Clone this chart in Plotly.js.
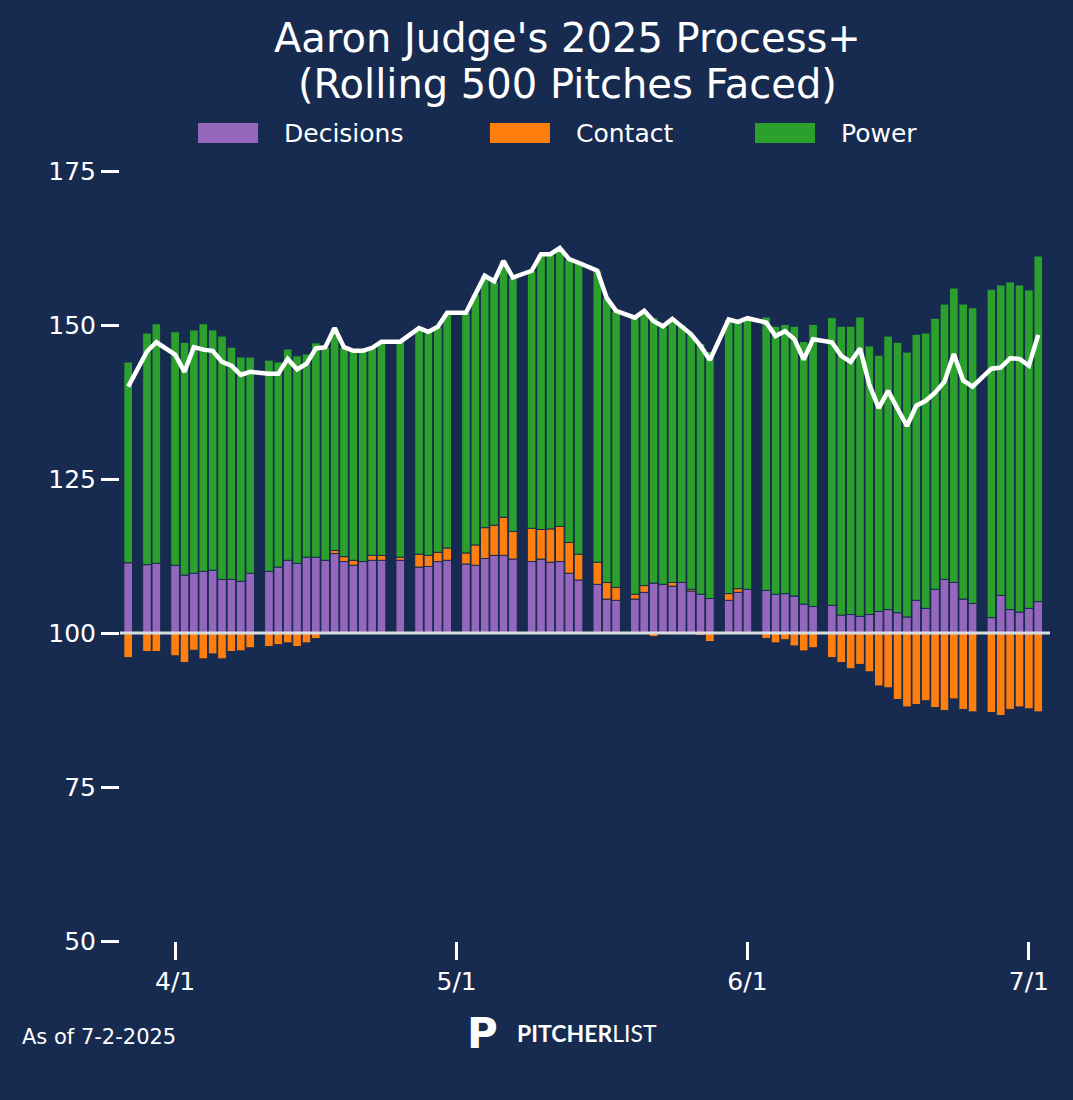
<!DOCTYPE html>
<html>
<head>
<meta charset="utf-8">
<script src="https://cdn.plot.ly/plotly-3.0.1.min.js"></script>
<style>
  html, body { margin: 0; padding: 0; background: #172b50; }
  #chart { width: 1073px; height: 1100px; }
</style>
</head>
<body>
<div id="chart"></div>
<script>
// rolling 500-pitch components, one entry per game date
const dates = ['2025-03-27','2025-03-29','2025-03-30','2025-04-01','2025-04-02','2025-04-03','2025-04-04','2025-04-05','2025-04-06','2025-04-07','2025-04-08','2025-04-09','2025-04-11','2025-04-12','2025-04-13','2025-04-14','2025-04-15','2025-04-16','2025-04-17','2025-04-18','2025-04-19','2025-04-20','2025-04-21','2025-04-22','2025-04-23','2025-04-25','2025-04-27','2025-04-28','2025-04-29','2025-04-30','2025-05-02','2025-05-03','2025-05-04','2025-05-05','2025-05-06','2025-05-07','2025-05-09','2025-05-10','2025-05-11','2025-05-12','2025-05-13','2025-05-14','2025-05-16','2025-05-17','2025-05-18','2025-05-20','2025-05-21','2025-05-22','2025-05-23','2025-05-24','2025-05-25','2025-05-26','2025-05-27','2025-05-28','2025-05-30','2025-05-31','2025-06-01','2025-06-03','2025-06-04','2025-06-05','2025-06-06','2025-06-07','2025-06-08','2025-06-10','2025-06-11','2025-06-12','2025-06-13','2025-06-14','2025-06-15','2025-06-16','2025-06-17','2025-06-18','2025-06-19','2025-06-20','2025-06-21','2025-06-22','2025-06-23','2025-06-24','2025-06-25','2025-06-27','2025-06-28','2025-06-29','2025-06-30','2025-07-01','2025-07-02'];
const decisions = [11.4,11.1,11.3,11.0,9.4,9.7,10.0,10.2,8.7,8.7,8.4,9.7,10.0,10.7,11.8,11.3,12.3,12.3,11.8,12.9,11.6,11.0,11.6,11.8,11.8,11.8,10.7,10.8,11.6,11.8,11.2,11.0,12.1,12.6,12.6,12.0,11.6,12.0,11.5,11.6,9.7,8.6,7.9,5.5,5.3,5.5,6.6,8.1,7.9,7.6,8.2,6.8,6.3,5.6,5.3,6.6,7.1,6.9,6.3,6.4,6.0,4.7,4.3,4.5,2.9,3.0,2.7,3.0,3.5,3.8,3.3,2.6,5.3,4.0,7.1,8.7,8.2,5.5,4.8,2.5,6.1,3.8,3.4,4.0,5.1];
const contact = [-4.0,-3.0,-3.0,-3.7,-4.8,-2.8,-4.2,-3.4,-4.2,-3.0,-2.9,-2.4,-2.2,-1.9,-1.6,-2.2,-1.6,-0.9,0,0.5,0.8,0.8,0,0.8,0.8,0.5,2.1,1.8,1.5,2.0,1.8,3.3,5.0,4.9,6.2,4.5,5.4,4.8,5.4,5.7,5.0,4.2,3.6,2.7,2.1,0.8,1.1,-0.6,0,0.6,-0.2,0.3,-0.4,-1.4,1.1,0.6,0,-0.9,-1.6,-1.1,-2.1,-2.9,-2.4,-4.0,-4.8,-5.8,-5.1,-6.3,-8.6,-8.9,-10.8,-12.0,-11.6,-11.0,-12.1,-12.6,-10.7,-12.4,-12.8,-12.9,-13.4,-12.4,-12.0,-12.3,-12.8];
const power = [32.6,37.6,38.9,37.9,37.8,39.5,40.2,39.0,39.5,37.7,36.4,35.1,34.3,33.3,34.3,33.7,33.0,34.8,34.6,36.1,34.0,34.0,34.2,33.7,34.7,35.0,36.7,36.3,36.6,38.2,39.0,40.7,40.9,39.6,41.6,41.2,41.8,44.7,44.6,45.2,46.0,47.3,47.3,46.2,44.9,44.9,44.6,43.1,41.9,42.8,41.8,41.4,40.7,40.1,44.5,43.3,44.0,44.4,43.5,43.7,43.8,42.6,45.8,46.7,46.9,46.8,48.6,43.6,41.6,44.4,43.9,43.0,43.2,44.7,44.0,44.7,47.8,47.9,48.0,53.3,50.4,53.2,53.1,51.7,56.1];
const seriesNames = ['Decisions', 'Contact', 'Power'];
const seriesColors = ['#9467bd', '#ff7f0e', '#2ca02c'];

const BASE = 100;
const DAY = 86400000;
const bg = '#172b50';

const contactBase = contact.map((c, i) => c > 0 ? BASE + decisions[i] : BASE);
const powerBase = decisions.map((d, i) => BASE + d + Math.max(contact[i], 0));
const total = decisions.map((d, i) => BASE + d + contact[i] + power[i]);

const barLine = { color: bg, width: 1 };
const mkBar = (k, y, base) => ({
  type: 'bar', name: seriesNames[k], x: dates, y: y, base: base, width: DAY * 0.92,
  showlegend: false, marker: { color: seriesColors[k], line: barLine }
});
const traces = [
  mkBar(0, decisions, BASE),
  mkBar(1, contact, contactBase),
  mkBar(2, power, powerBase),
  { type: 'scatter', mode: 'lines', x: dates, y: total, showlegend: false,
    line: { color: 'white', width: 4.5 } }
];

// hand-built legend row (wide swatches like the original)
const legendX = [0.0839, 0.3978, 0.6828];
const shapes = [
  { type: 'line', xref: 'paper', x0: 0, x1: 1, yref: 'y', y0: BASE, y1: BASE,
    line: { color: '#d8dbe0', width: 3 } }
];
const annotations = [
  { text: "Aaron Judge's 2025 Process+", xref: 'paper', yref: 'paper', x: 0.481, y: 1.173,
    xanchor: 'center', yanchor: 'middle', showarrow: false, font: { size: 40, color: 'white' } },
  { text: '(Rolling 500 Pitches Faced)', xref: 'paper', yref: 'paper', x: 0.481, y: 1.113,
    xanchor: 'center', yanchor: 'middle', showarrow: false, font: { size: 40, color: 'white' } },
  { text: 'As of 7-2-2025', xref: 'paper', yref: 'paper', x: -0.108, y: -0.125,
    xanchor: 'left', yanchor: 'middle', showarrow: false, font: { size: 21, color: 'white' } },
  { text: '<b>P</b>', xref: 'paper', yref: 'paper', x: 0.39, y: -0.12,
    xanchor: 'center', yanchor: 'middle', showarrow: false, font: { size: 42, color: 'white' } },
  { text: '<b>PITCHER</b>LIST', xref: 'paper', yref: 'paper', x: 0.425, y: -0.12,
    xanchor: 'left', yanchor: 'middle', showarrow: false,
    font: { family: 'Lato', size: 23, color: 'white' } }
];
seriesNames.forEach((n, k) => {
  shapes.push({ type: 'rect', xref: 'paper', yref: 'paper', x0: legendX[k], x1: legendX[k] + 0.0645,
                y0: 1.0364, y1: 1.0623, fillcolor: seriesColors[k], line: { width: 0 } });
  annotations.push({ text: n, xref: 'paper', yref: 'paper', x: legendX[k] + 0.0903, y: 1.049,
                     xanchor: 'left', yanchor: 'middle', showarrow: false,
                     font: { size: 25, color: 'white' } });
});

const layout = {
  width: 1073, height: 1100,
  paper_bgcolor: bg, plot_bgcolor: bg,
  font: { family: 'DejaVu Sans', color: 'white', size: 24 },
  margin: { l: 120, r: 23, t: 171, b: 159 },
  barmode: 'overlay',
  bargap: 0,
  showlegend: false,
  xaxis: {
    type: 'date', range: ['2025-03-26 03:00', '2025-07-03 06:00'],
    tickvals: ['2025-04-01', '2025-05-01', '2025-06-01', '2025-07-01'],
    ticktext: ['4/1', '5/1', '6/1', '7/1'],
    ticks: 'outside', ticklen: 18, tickwidth: 3, tickcolor: 'white',
    tickfont: { size: 25 },
    showgrid: false, zeroline: false, showline: false, fixedrange: true
  },
  yaxis: {
    range: [50, 175], tickvals: [50, 75, 100, 125, 150, 175],
    ticks: 'outside', ticklen: 18, tickwidth: 3, tickcolor: 'white',
    tickfont: { size: 25 },
    showgrid: false, zeroline: false, showline: false
  },
  shapes: shapes,
  annotations: annotations
};

Plotly.newPlot('chart', traces, layout, { displayModeBar: false, staticPlot: true });
</script>
</body>
</html>
